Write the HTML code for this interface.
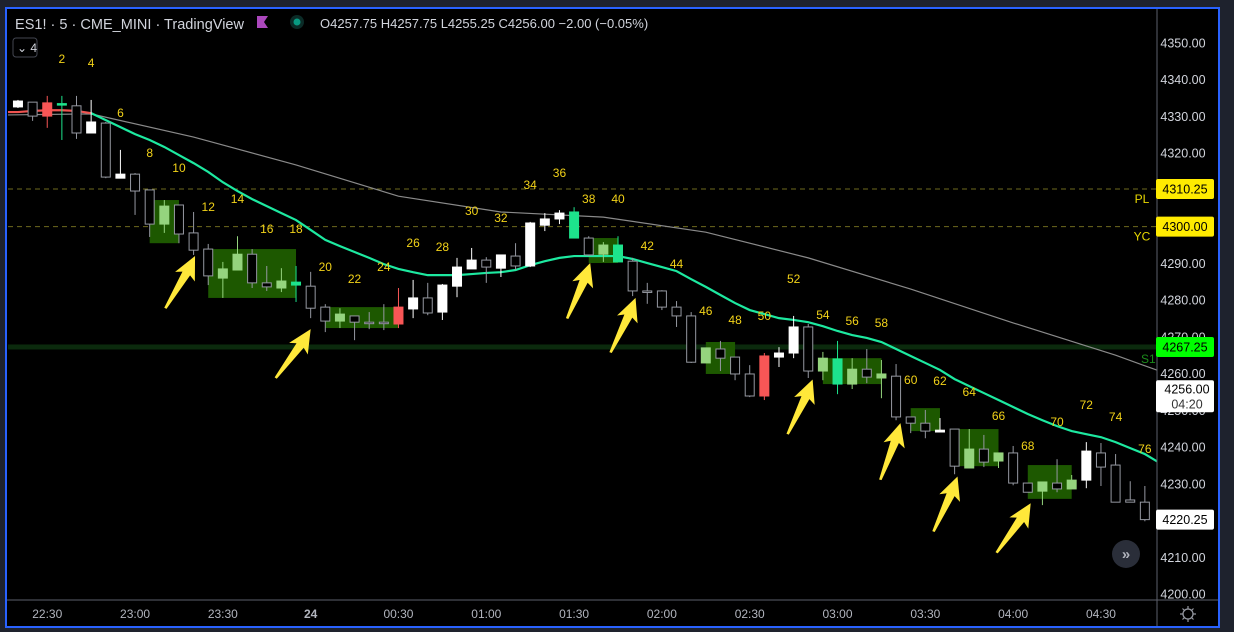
<!DOCTYPE html>
<html><head><meta charset="utf-8"><style>
html,body{margin:0;padding:0;background:#1e222d;width:1234px;height:632px;overflow:hidden}
svg{display:block;font-family:"Liberation Sans",sans-serif}
</style></head><body>
<svg id="c" width="1234" height="632" viewBox="0 0 1234 632">
<rect x="0" y="0" width="1234" height="632" fill="#1e222d"/>
<rect x="6" y="8" width="1213" height="619" fill="#000" stroke="#2962ff" stroke-width="2"/>
<g id="plot"></g>
<line x1="1157" y1="9" x2="1157" y2="626" stroke="#5d606b"/>
<line x1="7" y1="600" x2="1218" y2="600" stroke="#5d606b"/>
<g id="axes"></g>
<text x="15" y="29" font-size="15" fill="#d1d4dc" textLength="229" lengthAdjust="spacingAndGlyphs">ES1! · 5 · CME_MINI · TradingView</text>
<path d="M257 16 L268 16 L264 22 L268 28 L257 28 Z" fill="#ab47bc"/>
<circle cx="297" cy="22" r="7" fill="#0b2b27"/>
<circle cx="297" cy="22" r="3.5" fill="#089981"/>
<text x="320" y="28" font-size="13" fill="#d1d4dc">O4257.75 H4257.75 L4255.25 C4256.00 −2.00 (−0.05%)</text>
<rect x="13" y="38" width="24" height="19" rx="3" fill="none" stroke="#434651"/>
<text x="17" y="52" font-size="12" fill="#d1d4dc">⌄ 4</text>
<circle cx="1126" cy="554" r="14" fill="#2a2e39"/>
<text x="1126" y="559" font-size="15" fill="#b2b5be" text-anchor="middle" font-weight="bold">»</text>
<g><circle cx="1188" cy="614" r="5" fill="none" stroke="#9598a1" stroke-width="1.3"/><path d="M1188 606v3M1188 619v3M1180 614h3M1193 614h3M1182.5 608.5l2 2M1191.5 617.5l2 2M1182.5 619.5l2-2M1191.5 610.5l2-2" stroke="#9598a1" stroke-width="1.2"/></g>
</svg>
<script>
// ---- data ----
const bars=[-1,0,1,2,3,4,5,6,7,8,9,10,11,12,13,14,15,16,17,18,19,20,21,22,23,24,25,26,27,28,29,30,31,32,33,34,35,36,37,38,39,40,41,42,43,44,45,46,47,48,49,50,51,52,53,54,55,56,57,58,59,60,61,62,63,64,65,66,67,68,69,70,71,72,73,74,75,76];
const opens=[4332.6,4333.9,4333.7,4333.5,4332.9,4325.5,4328.2,4313.2,4314.3,4310.0,4300.7,4305.9,4298.3,4293.9,4286.0,4288.2,4292.5,4284.7,4283.3,4284.1,4283.8,4278.1,4274.3,4275.7,4274.0,4274.0,4278.1,4277.6,4280.6,4276.75,4283.8,4288.5,4290.9,4288.7,4292.0,4289.3,4300.4,4302.1,4304.0,4296.9,4292.5,4295.0,4290.6,4282.5,4282.5,4278.1,4275.7,4262.9,4266.7,4264.5,4259.9,4264.8,4264.5,4265.6,4272.7,4260.7,4264.0,4257.15,4261.2,4258.8,4259.3,4248.2,4246.5,4244.1,4244.9,4234.3,4239.45,4236.2,4238.4,4230.2,4228.0,4230.2,4228.6,4231.0,4238.4,4235.1,4225.6,4225.0];
const highs=[4334.5,4333.9,4335.6,4335.6,4335.6,4334.5,4328.5,4320.9,4314.6,4310.0,4307.25,4305.9,4304.0,4295.3,4290.4,4297.4,4293.9,4289.3,4288.7,4289.3,4287.7,4278.9,4277.8,4275.7,4276.75,4278.9,4283.3,4285.5,4284.7,4284.4,4291.5,4294.2,4291.7,4292.3,4295.5,4301.3,4303.7,4304.5,4305.3,4297.4,4295.8,4297.4,4291.5,4284.7,4282.7,4279.75,4276.75,4267.0,4268.9,4264.5,4262.3,4265.6,4267.2,4275.7,4273.5,4265.9,4268.9,4264.2,4266.7,4263.7,4262.6,4248.2,4250.1,4247.9,4244.9,4244.9,4243.3,4238.4,4240.3,4230.2,4230.5,4236.7,4232.4,4241.35,4241.1,4238.1,4230.7,4229.4];
const lows=[4332.3,4328.8,4326.9,4323.6,4323.9,4325.5,4313.2,4313.2,4303.2,4297.2,4298.3,4295.5,4292.3,4284.1,4280.6,4288.2,4283.3,4282.5,4282.2,4279.5,4275.1,4271.3,4272.4,4269.1,4272.1,4271.85,4272.4,4275.1,4275.9,4274.6,4280.8,4288.5,4284.7,4286.3,4288.2,4289.0,4298.8,4300.7,4296.9,4292.0,4290.4,4290.4,4281.1,4279.0,4277.3,4272.7,4262.9,4262.9,4260.7,4258.2,4253.6,4252.8,4261.8,4264.2,4258.8,4258.2,4254.4,4255.8,4257.4,4253.3,4247.3,4243.8,4242.4,4244.1,4232.6,4234.3,4234.55,4234.3,4229.6,4227.7,4224.2,4227.7,4228.6,4228.8,4229.4,4225.0,4225.0,4219.8];
const closes=[4334.2,4330.1,4330.1,4333.25,4325.5,4328.5,4313.5,4314.3,4309.7,4300.7,4305.6,4298.0,4293.6,4286.6,4288.5,4292.5,4284.7,4283.6,4285.2,4284.9,4277.8,4274.3,4276.2,4274.0,4274.0,4274.0,4273.5,4280.6,4276.5,4284.1,4289.0,4290.9,4289.0,4292.3,4289.3,4301.0,4302.1,4303.7,4296.9,4292.3,4295.0,4290.4,4282.5,4282.5,4278.1,4275.7,4263.1,4267.0,4264.2,4259.9,4253.9,4253.9,4265.6,4272.7,4260.7,4264.2,4257.15,4261.2,4259.05,4259.9,4248.2,4246.5,4244.35,4244.6,4234.8,4239.45,4235.9,4238.4,4230.2,4227.7,4230.5,4228.6,4231.0,4238.9,4234.55,4225.0,4225.0,4220.25];
const kinds=["","","r","g","","","","","","","l","","","","l","l","","","l","g","","","l","","","","r","","","","","","","","","","","","g","","l","g","","","","","","l","","","","r","","","","l","g","l","","l","","","","","","l","","l","","","l","","l","","","",""];
const emaBars=[-1,0,1,2,3,4,5,6,7,8,9,10,11,12,13,14,15,16,17,18,19,20,21,22,23,24,25,26,27,28,29,30,31,32,33,34,35,36,37,38,39,40,41,42,43,44,45,46,47,48,49,50,51,52,53,54,55,56,57,58,59,60,61,62,63,64,65,66,67,68,69,70,71,72,73,74,75,76];
const emaVals=[4331.2,4331.5,4331.7,4331.7,4331.5,4330.9,4329.0,4327.1,4325.2,4323.6,4321.7,4319.5,4317.3,4314.9,4312.1,4309.7,4307.5,4305.6,4303.7,4301.8,4299.1,4296.4,4294.7,4293.1,4291.5,4289.8,4288.5,4287.6,4286.8,4286.8,4286.8,4287.1,4287.4,4287.6,4288.2,4289.5,4290.6,4291.5,4292.0,4292.0,4292.0,4292.0,4291.2,4290.1,4289.0,4287.9,4285.7,4283.6,4281.4,4279.2,4277.3,4276.2,4275.1,4274.6,4274.0,4272.9,4271.6,4270.5,4269.7,4268.6,4266.7,4264.8,4262.9,4261.0,4258.5,4256.6,4254.7,4252.8,4250.9,4249.0,4247.3,4245.7,4244.35,4243.5,4242.7,4241.35,4239.7,4238.1];
const slowBars=[-2,4,11,18,25,32,39,46,53,60,67,74,77];
const slowVals=[4330.4,4330.7,4324.4,4316.8,4308.3,4304.0,4302.6,4298.5,4291.5,4283.0,4273.8,4265.0,4260.7];
const zoneStart=[8,12,20,38,46,54,60,63,68];
const zoneEnd=[10,18,25,40,48,58,62,66,71];
const zoneTop=[4307.25,4293.9,4278.1,4296.9,4268.6,4264.2,4250.6,4244.9,4235.1];
const zoneBot=[4295.5,4280.6,4272.4,4290.1,4259.9,4257.15,4244.35,4234.8,4225.9];
const arrowBars=[11.1,19.0,38.1,41.2,53.3,59.3,63.2,68.2];
const arrowPrices=[4292.0,4272.1,4290.1,4280.6,4258.4,4246.5,4232.0,4224.7];
const arrowAngles=[26,32,19,21,21,16,20,31];
const priceTicks=[4350,4340,4330,4320,4310,4300,4290,4280,4270,4260,4250,4240,4230,4220,4210,4200];
const timeLabels=["22:30","23:00","23:30","24","00:30","01:00","01:30","02:00","02:30","03:00","03:30","04:00","04:30"];
const timeBars=[1,7,13,19,25,31,37,43,49,55,61,67,73];
const hLinePrices=[4310.25,4300.00];
const hLineTags=["PL","YC"];
const s1Price=4267.25;

// ---- scales ----
const X=i=>32.6+14.635*i;
const Y=p=>43+(4350-p)*3.6733;
const NS='http://www.w3.org/2000/svg';
const plot=document.getElementById('plot'), axes=document.getElementById('axes');
function mk(tag,attrs,parent){const e=document.createElementNS(NS,tag);for(const k in attrs)e.setAttribute(k,attrs[k]);(parent||plot).appendChild(e);return e;}
const clip=mk('clipPath',{id:'pc'});mk('rect',{x:8,y:10,width:1149,height:590},clip);
const g=mk('g',{'clip-path':'url(#pc)'});

let e=mk('rect',{x:8,y:Y(s1Price)-2.5,width:1149,height:5,fill:'#0b2a0d'},g);


e=mk('text',{x:1141,y:Y(s1Price)+16,'font-size':12,fill:'#1b8a1b'},g);e.textContent='S1';


hLinePrices.forEach((p,k)=>{
  let l=mk('line',{x1:8,x2:1157,y1:Y(p),y2:Y(p),stroke:'#6e6a1e','stroke-dasharray':'5 4'},g);
  
  
  let t=mk('text',{x:1142,y:Y(p)+14,'font-size':12,fill:'#e8d800','text-anchor':'middle'},g);t.textContent=hLineTags[k];
  
  
});
zoneStart.forEach((s,k)=>{
  let r=mk('rect',{x:X(s),y:Y(zoneTop[k]),width:X(zoneEnd[k])-X(s),height:Y(zoneBot[k])-Y(zoneTop[k]),fill:'#1d5800'},g);
  
  
});
let sl=mk('polyline',{points:slowBars.map((b,k)=>X(b)+','+Y(slowVals[k])).join(' '),fill:'none',stroke:'#8a8a8a','stroke-width':1.2},g);


const redPts=[],grnPts=[];
emaBars.forEach((b,k)=>{const pt=X(b)+','+Y(emaVals[k]);if(b<=4)redPts.push(pt);if(b>=4)grnPts.push(pt);});
let er=mk('polyline',{points:(X(-2)+','+Y(emaVals[0]))+' '+redPts.join(' '),fill:'none',stroke:'#f05350','stroke-width':2.2},g);


let eg=mk('polyline',{points:grnPts.join(' ')+' '+X(77)+','+Y(emaVals[emaVals.length-1]-2.4),fill:'none',stroke:'#1de9a0','stroke-width':2.2},g);


bars.forEach((b,k)=>{
  const o=opens[k],c=closes[k],h=highs[k],l=lows[k],kd=kinds[k],x=X(b);
  const up=c>o;
  let fill,stroke;
  if(kd==='r'){fill='#f85656';stroke='#f85656';}
  else if(kd==='g'){fill='#1de38c';stroke='#1de38c';}
  else if(kd==='l'){fill='#95d47e';stroke='#95d47e';}
  else if(up){fill='#ffffff';stroke='#ffffff';}
  else {fill='none';stroke='#9598a1';}
  const wc=(kd===''&&!up)?'#9598a1':(kd===''?'#ffffff':stroke);
  const cg=mk('g',{},g);
  
  
  mk('line',{x1:x,x2:x,y1:Y(h),y2:Y(l),stroke:wc,'stroke-width':1},cg);
  let top=Y(Math.max(o,c)),bh=Math.max(Y(Math.min(o,c))-top,1.5);
  if(fill==='none') mk('rect',{x:x-4.5,y:top,width:9,height:bh,fill:'#000',stroke:stroke,'stroke-width':1},cg);
  else mk('rect',{x:x-5,y:top-0.5,width:10,height:bh+1,fill:fill},cg);
});
bars.forEach((b,k)=>{
  if(b>=2&&b%2===0){
    let t=mk('text',{x:X(b),y:Y(highs[k])-33,'font-size':12,fill:'#f2d218','text-anchor':'middle'},g);t.textContent=b;
    
    
  }
});
arrowBars.forEach((b,k)=>{
  const a=mk('path',{d:'M0 0 L11 23 L4 19.5 L-2.5 60 L-5 60 L-4.5 19.5 L-11 23 Z',fill:'#ffe83a',transform:`translate(${X(b)},${Y(arrowPrices[k])}) rotate(${arrowAngles[k]})`},g);
  
  
});
priceTicks.forEach(p=>{
  let t=mk('text',{x:1183,y:Y(p)+4.5,'font-size':12.5,fill:'#d1d4dc','text-anchor':'middle'},axes);t.textContent=p.toFixed(2);
  
  
});
function tag(p,txt,bg,fg,name,h){
  const yy=Y(p);
  let r=mk('rect',{x:1156,y:yy-(h||20)/2,width:58,height:h||20,rx:2,fill:bg},axes);
  
  
  let t=mk('text',{x:1185,y:yy+4.5,'font-size':12.5,fill:fg,'text-anchor':'middle'},axes);t.textContent=txt;
  
  
}
tag(4310.25,'4310.25','#ffeb00','#000','pl-price-tag');
tag(4300.00,'4300.00','#ffeb00','#000','yc-price-tag');
tag(s1Price,'4267.25','#00ff00','#000','s1-price-tag');
tag(4220.25,'4220.25','#ffffff','#000','last-price-tag');
let cb=mk('rect',{x:1156,y:Y(4256)-8,width:58,height:32,rx:2,fill:'#ffffff'},axes);


let ct=mk('text',{x:1187,y:Y(4256)+5,'font-size':12.5,fill:'#000','text-anchor':'middle'},axes);ct.textContent='4256.00';


let cd=mk('text',{x:1187,y:Y(4256)+20,'font-size':12.5,fill:'#333','text-anchor':'middle'},axes);cd.textContent='04:20';


timeLabels.forEach((s,k)=>{
  let t=mk('text',{x:X(timeBars[k]),y:618,'font-size':12,fill:'#b2b5be','text-anchor':'middle','font-weight':s==='24'?'bold':'normal'},axes);t.textContent=s;
  
  
});
</script>
</body></html>
